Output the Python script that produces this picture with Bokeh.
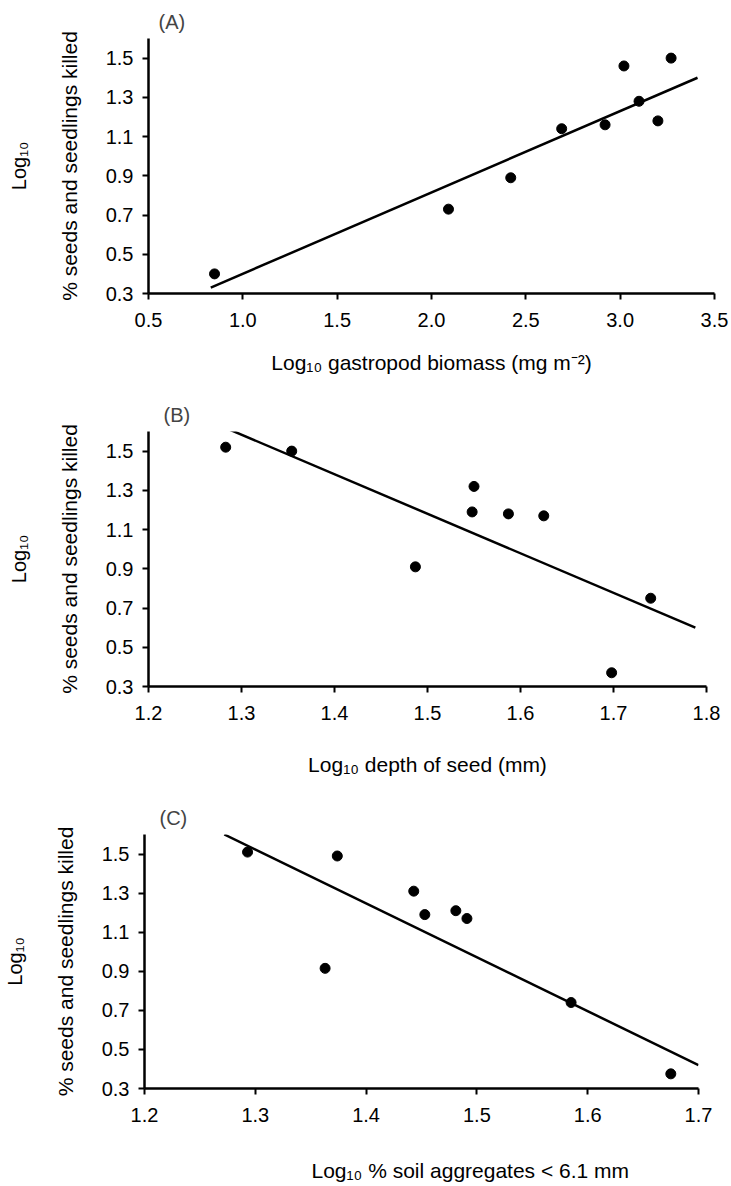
from bokeh.plotting import figure
from bokeh.layouts import column
from bokeh.models import FixedTicker, NumeralTickFormatter, LinearAxis, Title
from bokeh.embed import file_html
from bokeh.resources import INLINE

# ---------------- data ----------------
a_x = [0.85, 2.09, 2.42, 2.69, 2.92, 3.02, 3.10, 3.20, 3.27]
a_y = [0.40, 0.73, 0.89, 1.14, 1.16, 1.46, 1.28, 1.18, 1.50]
a_fit_x = [0.83, 3.41]
a_fit_y = [0.33, 1.40]

b_x = [1.283, 1.354, 1.487, 1.548, 1.550, 1.587, 1.625, 1.698, 1.740]
b_y = [1.52, 1.50, 0.91, 1.19, 1.32, 1.18, 1.17, 0.37, 0.75]
b_fit_x = [1.282, 1.788]
b_fit_y = [1.62, 0.60]

c_x = [1.293, 1.374, 1.363, 1.443, 1.453, 1.481, 1.491, 1.585, 1.675]
c_y = [1.51, 1.49, 0.915, 1.31, 1.19, 1.21, 1.17, 0.74, 0.375]
c_fit_x = [1.272, 1.70]
c_fit_y = [1.60, 0.42]

y_ticks = [0.3, 0.5, 0.7, 0.9, 1.1, 1.3, 1.5]
a_x_ticks = [0.5, 1.0, 1.5, 2.0, 2.5, 3.0, 3.5]
b_x_ticks = [1.2, 1.3, 1.4, 1.5, 1.6, 1.7, 1.8]
c_x_ticks = [1.2, 1.3, 1.4, 1.5, 1.6, 1.7]

y_label = "% seeds and seedlings killed"
y_label_top = "Log\u2081\u2080"
a_xlabel = "Log\u2081\u2080 gastropod biomass (mg m\u207b\u00b2)"
b_xlabel = "Log\u2081\u2080 depth of seed (mm)"
c_xlabel = "Log\u2081\u2080 % soil aggregates < 6.1 mm"

FONT = "Liberation Sans"
Y0, Y1 = 0.3, 1.6


def blank_axis(ticks=(), tick_color=None, **kw):
    return LinearAxis(ticker=FixedTicker(ticks=list(ticks)), major_tick_in=0,
                      axis_line_color=None, major_tick_line_color=tick_color,
                      minor_tick_line_color=None, **kw)


def panel(letter, xs, ys, fx, fy, xr, xticks, xlabel, height, left, right,
          top, bottom, xlabel_standoff, free_label=False, label_dx=0, spacer=0,
          letter_offset=10):
    p = figure(width=730, height=height, x_range=xr, y_range=(Y0, Y1),
               output_backend="svg", toolbar_location=None,
               min_border_left=left, min_border_right=right,
               min_border_top=top, min_border_bottom=bottom)
    p.frame_align = False
    p.outline_line_color = None
    p.xgrid.visible = False
    p.ygrid.visible = False
    p.background_fill_color = "white"
    p.border_fill_color = "white"

    p.title.text = letter
    p.title.text_font = FONT
    p.title.text_font_size = "20px"
    p.title.text_font_style = "normal"
    p.title.align = "left"
    p.title.offset = letter_offset
    p.title.standoff = 12

    for ax in (p.xaxis[0], p.yaxis[0]):
        ax.axis_line_width = 2.5
        ax.axis_line_color = "black"
        ax.major_tick_line_width = 2
        ax.major_tick_line_color = "black"
        ax.major_tick_out = 6
        ax.major_tick_in = 0
        ax.minor_tick_line_color = None
        ax.major_label_text_font = FONT
        ax.major_label_text_font_size = "20px"
        ax.major_label_text_color = "black"
        ax.axis_label_text_font = FONT
        ax.axis_label_text_font_size = "21px"
        ax.axis_label_text_font_style = "normal"
        ax.axis_label_text_color = "black"
        ax.formatter = NumeralTickFormatter(format="0.0")

    p.xaxis[0].ticker = FixedTicker(ticks=xticks)
    p.yaxis[0].ticker = FixedTicker(ticks=y_ticks)
    p.xaxis[0].major_label_standoff = 13
    p.yaxis[0].major_label_standoff = 9

    p.yaxis[0].axis_label = y_label
    p.yaxis[0].axis_label_standoff = 22

    # outer line of the two-line y label ("Log10")
    outer = blank_axis(major_tick_out=0, axis_label=y_label_top,
                       axis_label_standoff=25, axis_label_text_font=FONT,
                       axis_label_text_font_size="20px",
                       axis_label_text_font_style="normal",
                       axis_label_text_color="black")
    p.add_layout(outer, "left")

    if free_label:
        # invisible spacer (white tick) pushing the x title further down
        sp = blank_axis(ticks=[xr[0]], tick_color="white", major_tick_out=spacer,
                        major_label_text_font_size="0px",
                        major_label_text_color=None)
        p.add_layout(sp, "below")
        p.add_layout(Title(text=xlabel, align="left", offset=label_dx,
                           vertical_align="bottom", standoff=0, text_font=FONT,
                           text_font_size="21px", text_font_style="normal",
                           text_color="black"), "below")
    else:
        p.xaxis[0].axis_label = xlabel
        p.xaxis[0].axis_label_standoff = xlabel_standoff

    p.line(fx, fy, line_width=2.5, line_color="black")
    p.scatter(xs, ys, size=10, fill_color="black", line_color="black")
    return p


pa = panel("(A)", a_x, a_y, a_fit_x, a_fit_y, (0.5, 3.5), a_x_ticks, a_xlabel,
           392, 148, 16, 38, 99, 21, letter_offset=10)
pb = panel("(B)", b_x, b_y, b_fit_x, b_fit_y, (1.2, 1.8), b_x_ticks, b_xlabel,
           406, 148, 24, 39, 112, 30, letter_offset=15)
pc = panel("(C)", c_x, c_y, c_fit_x, c_fit_y, (1.2, 1.7), c_x_ticks, c_xlabel,
           386, 140, 32, 35, 96, 0, free_label=True, label_dx=167, spacer=32,
           letter_offset=15)

layout = column(pa, pb, pc, spacing=0)
open("out.html", "w").write(file_html(layout, INLINE))
